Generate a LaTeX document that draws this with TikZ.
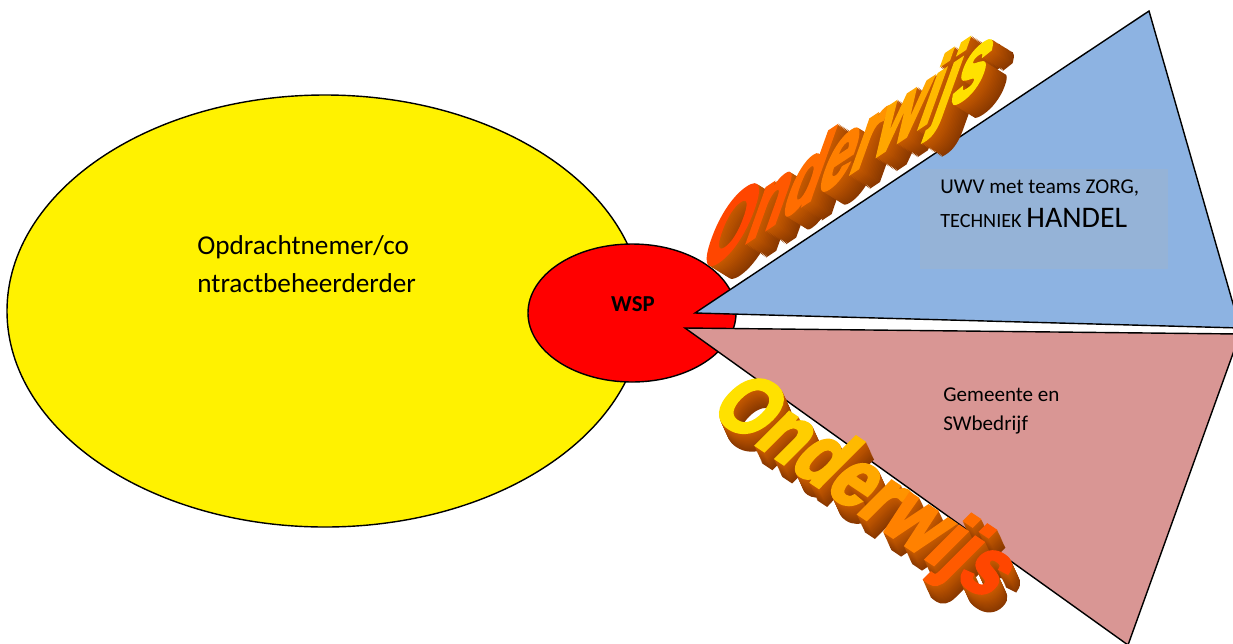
\documentclass[tikz,border=0pt]{standalone}
\usepackage{fontspec}
\setmainfont{Carlito}
\newfontfamily\wafont{Liberation Sans}[BoldFeatures={FakeBold=4}]
\usetikzlibrary{calc}

\definecolor{blueface}{HTML}{8DB3E2}
\definecolor{boxblue}{HTML}{95B3D7}
\definecolor{pinkface}{HTML}{D99694}
\definecolor{wared}{RGB}{255,70,0}
\definecolor{wayel}{RGB}{255,225,0}
\definecolor{waside}{HTML}{C85A00}
\definecolor{wadeep}{HTML}{7A3000}

% word art letters, colour running from #1 to #2
\newcommand\gradword[2]{%
  \textcolor{#2!0!#1}{O}\textcolor{#2!12!#1}{n}\textcolor{#2!25!#1}{d}%
  \textcolor{#2!37!#1}{e}\textcolor{#2!50!#1}{r}\textcolor{#2!62!#1}{w}%
  \textcolor{#2!75!#1}{i}\textcolor{#2!87!#1}{j}\textcolor{#2!100!#1}{s}}

\begin{document}
\begin{tikzpicture}[x=0.02cm, y=-0.02cm,
  outline/.style={draw=black, line width=0.8pt},
  lbl/.style={align=left, inner sep=0pt},
  wa/.style={font=\wafont\bfseries\fontsize{40}{40}\selectfont, inner sep=0pt, transform shape}]
  \useasboundingbox (0,0) rectangle (1233,643);
  \clip (0,0) rectangle (1233,643);

  \draw[outline, fill=yellow] (325,311) ellipse [x radius=318, y radius=216];
  \draw[outline, fill=red] (632,313) ellipse [x radius=104, y radius=69];
  \draw[outline, fill=blueface] (695,313) -- (1149,11) -- (1240,328) -- cycle;
  \draw[outline, fill=pinkface] (685,328) -- (1240,334) -- (1128,645) -- cycle;
  \fill[boxblue] (920,169) rectangle (1168,269);

  \node[lbl, anchor=west, font=\fontsize{15.5}{21.5}\selectfont] (contract) at (197,264)
    {Opdrachtnemer/co\\ntractbeheerderder};
  \node[lbl, font=\bfseries\fontsize{13}{14}\selectfont] (wsp) at (633,304) {WSP};
  \node[lbl, anchor=west, font=\fontsize{12}{19.5}\selectfont] (uwv) at (940,204)
    {UWV met teams ZORG,\\{\fontsize{11.5}{14}\selectfont TECHNIEK} {\fontsize{17}{18}\selectfont HANDEL}};
  \node[lbl, anchor=west, font=\fontsize{12}{17}\selectfont] (gemeente) at (943,411)
    {Gemeente en\\SWbedrijf};

  % Onderwijs, upper
  \foreach \k [evaluate=\k as \p using int(100-5*\k)] in {16,15,...,1}
    \node[wa, text=waside!\p!wadeep, cm={0.83,0.55,0.52,1.45,(0,0)}]
      at (848+1.3*\k, 155+0.8*\k) {Onderwijs};
  \node[wa, cm={0.83,0.55,0.52,1.45,(0,0)}] (ondup) at (848,155) {\gradword{wared}{wayel}};

  % Onderwijs, lower
  \foreach \k [evaluate=\k as \p using int(100-5*\k)] in {16,15,...,1}
    \node[wa, text=waside!\p!wadeep, cm={0.82,-0.55,0.88,0.88,(0,0)}]
      at (863+0.5*\k, 490+1.1*\k) {Onderwijs};
  \node[wa, cm={0.82,-0.55,0.88,0.88,(0,0)}] (onddown) at (863,490) {\gradword{wayel}{wared}};
\end{tikzpicture}
\end{document}
